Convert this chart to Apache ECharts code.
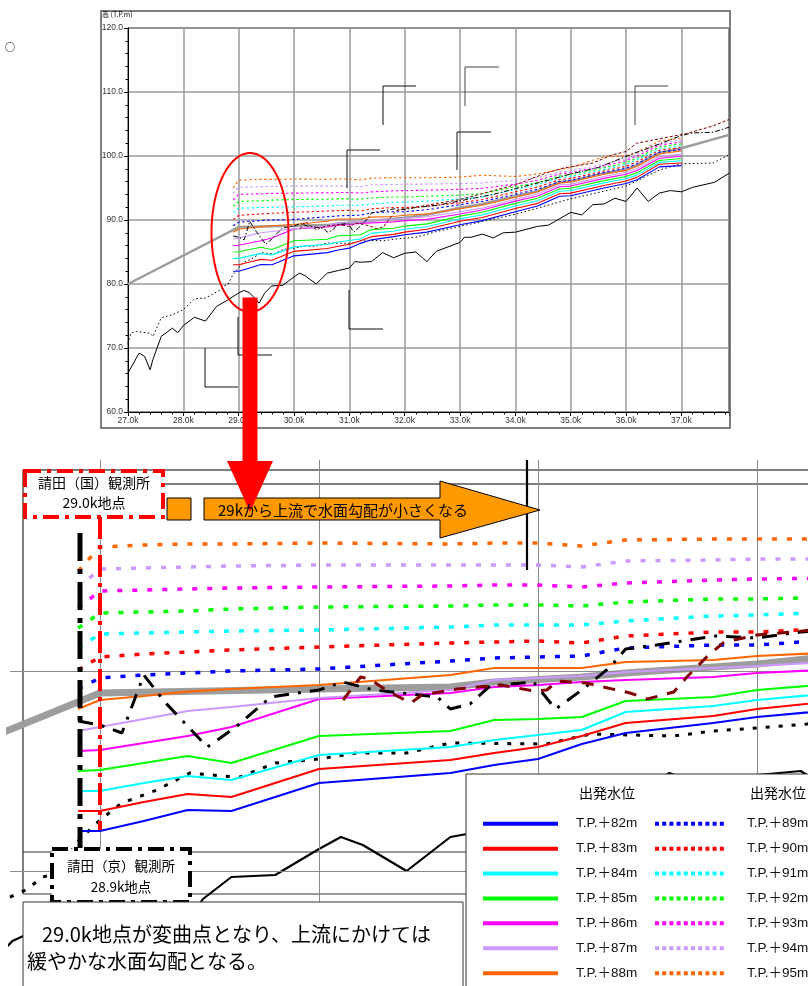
<!DOCTYPE html>
<html><head><meta charset="utf-8">
<script src="https://cdn.jsdelivr.net/npm/echarts@6/dist/echarts.min.js"></script>
<style>html,body{margin:0;padding:0;background:#fff}#c{width:808px;height:986px}</style>
</head><body><div id="c"></div>
<script>
// ---------- data (km / T.P. m) ----------
const wlKm = [28.9, 29.0, 29.2, 29.4, 29.6, 30.0, 30.6, 30.8, 31.0, 31.2, 31.4, 31.8, 32.0, 32.4, 33.0, 33.4, 34.0, 34.4, 34.8, 35.0, 35.6, 36.0, 36.2, 36.6, 37.0];
const wl82 = [82.0, 82.0, 82.5, 83.05, 83.0, 84.4, 84.9, 85.3, 85.6, 86.35, 86.9, 87.4, 87.7, 88.1, 89.25, 89.9, 91.3, 92.2, 93.7, 93.8, 95.0, 95.7, 96.3, 98.3, 98.5];
const wl83 = [83.0, 83.0, 83.45, 83.85, 83.7, 85.1, 85.55, 85.9, 86.2, 86.75, 87.4, 87.75, 88.1, 88.55, 89.8, 90.4, 91.8, 92.6, 94.1, 94.2, 95.4, 96.1, 96.7, 98.7, 98.9];
const wl84 = [84.0, 84.0, 84.4, 84.75, 84.55, 85.8, 86.2, 86.55, 86.8, 87.05, 87.95, 88.25, 88.55, 88.95, 90.2, 90.8, 92.2, 93.0, 94.5, 94.6, 95.8, 96.45, 97.05, 99.0, 99.25];
const wl85 = [85.0, 85.05, 85.4, 85.75, 85.4, 86.75, 87.0, 87.55, 87.6, 87.7, 88.5, 88.7, 89.05, 89.4, 90.6, 91.2, 92.6, 93.4, 94.85, 94.95, 96.15, 96.8, 97.4, 99.3, 99.6];
const wl86 = [86.0, 86.05, 86.4, 86.75, 87.2, 88.6, 88.9, 89.2, 89.3, 89.45, 89.55, 89.7, 89.9, 90.1, 90.95, 91.55, 92.95, 93.75, 95.2, 95.3, 96.5, 97.15, 97.75, 99.65, 99.95];
const wl87 = [87.0, 87.2, 87.6, 88.0, 88.2, 88.65, 89.05, 89.55, 89.65, 89.75, 89.95, 90.15, 90.25, 90.5, 91.3, 91.85, 93.25, 94.05, 95.5, 95.6, 96.8, 97.45, 98.05, 99.95, 100.3];
const wl88 = [88.1, 88.55, 88.75, 88.97, 89.1, 89.3, 89.8, 90.15, 90.15, 90.15, 90.45, 90.55, 90.75, 90.95, 91.75, 92.3, 93.55, 94.4, 95.8, 95.95, 97.15, 97.75, 98.4, 100.3, 100.8];
const wl89 = [89.1, 89.65, 89.8, 89.9, 90.0, 90.1, 90.5, 90.65, 90.7, 90.75, 91.15, 91.3, 91.3, 91.6, 92.4, 92.9, 94.0, 94.8, 96.0, 96.2, 97.4, 98.1, 98.8, 100.6, 101.0];
const wl90 = [90.05, 90.7, 90.85, 90.95, 91.05, 91.2, 91.4, 91.45, 91.5, 91.4, 91.75, 91.95, 91.95, 92.15, 92.7, 93.2, 94.4, 95.15, 96.3, 96.5, 97.65, 98.4, 99.1, 100.9, 101.3];
const wl91 = [91.15, 91.85, 91.9, 91.95, 92.0, 92.05, 92.2, 92.3, 92.3, 92.3, 92.5, 92.75, 92.8, 92.95, 93.3, 93.6, 94.8, 95.5, 96.6, 96.8, 97.9, 98.7, 99.4, 101.1, 101.6];
const wl92 = [92.15, 92.9, 92.95, 93.0, 93.1, 93.2, 93.25, 93.3, 93.3, 93.25, 93.45, 93.6, 93.6, 93.7, 93.9, 94.1, 95.2, 95.85, 96.9, 97.1, 98.15, 99.0, 99.7, 101.4, 101.9];
const wl93 = [93.15, 94.0, 94.05, 94.1, 94.15, 94.2, 94.25, 94.3, 94.3, 94.2, 94.4, 94.55, 94.6, 94.65, 94.8, 94.95, 95.6, 96.2, 97.2, 97.4, 98.4, 99.3, 100.0, 101.7, 102.2];
const wl94 = [94.15, 95.1, 95.15, 95.2, 95.25, 95.3, 95.3, 95.3, 95.3, 95.2, 95.5, 95.55, 95.6, 95.6, 95.7, 95.8, 96.2, 96.6, 97.5, 97.7, 98.7, 99.6, 100.3, 102.0, 102.5];
const wl95 = [95.0, 96.2, 96.3, 96.35, 96.35, 96.4, 96.35, 96.4, 96.4, 96.25, 96.55, 96.6, 96.6, 96.6, 96.7, 97.0, 96.8, 97.2, 97.9, 98.2, 99.9, 100.0, 100.6, 102.3, 102.8];
const wlNames = ['T.P.＋82m','T.P.＋83m','T.P.＋84m','T.P.＋85m','T.P.＋86m','T.P.＋87m','T.P.＋88m',
                 'T.P.＋89m','T.P.＋90m','T.P.＋91m','T.P.＋92m','T.P.＋93m','T.P.＋94m','T.P.＋95m'];

const hwlKm = [27.0, 29.0, 30.0, 30.6, 30.8, 31.2, 31.4, 32.0, 32.4, 33.0, 33.4, 34.0, 34.4, 34.8, 35.0, 35.6, 36.0, 36.2, 36.6, 37.0, 37.86];
const hwl   = [80.0, 88.9, 89.1, 89.2, 89.45, 89.7, 89.9, 90.35, 90.8, 91.9, 92.5, 93.7, 94.5, 95.9, 96.05, 97.3, 97.9, 98.6, 100.5, 101.2, 103.3];

const bedLowKm = [27.0,27.2,27.3,27.4,27.45,27.6,27.8,27.9,28.0,28.2,28.4,28.6,28.8,29.0,29.1,29.2,29.37,29.47,29.6,29.8,30.0,30.1,30.2,30.4,30.6,30.8,31.0,31.1,31.2,31.4,31.6,31.8,32.0,32.2,32.4,32.57,33.0,33.08,33.2,33.4,33.6,33.78,34.0,34.4,34.6,35.0,35.2,35.4,35.6,35.8,36.0,36.2,36.4,36.6,36.8,37.0,37.2,37.6,37.86];
const bedLow   = [66.1,69.2,68.7,66.6,68.2,71.8,73.1,72.4,73.5,74.8,74.2,76.5,77.5,78.6,79.0,78.6,77.0,78.6,79.7,79.8,81.1,81.7,81.3,80.0,81.7,82.1,82.5,83.5,83.4,83.5,84.9,84.1,84.8,85.0,83.5,85.1,86.5,87.3,87.3,87.8,87.2,88.0,88.1,89.0,89.2,91.2,90.8,92.4,92.5,93.4,92.9,95.0,92.9,94.2,94.6,94.4,95.1,95.9,97.3];

const bedAvgKm = [27.0,27.05,27.15,27.4,27.45,27.6,27.8,28.0,28.2,28.4,28.6,28.66,28.74,28.8,28.9,29.0,29.1,29.26,29.41,29.56,29.64,29.8,30.0,30.17,30.4,30.6,31.04,31.24,31.62,31.8,32.0,32.23,32.57,33.0,34.0,35.0,36.0,36.6,37.0,37.57,37.86];
const bedAvg   = [70.7,72.3,72.6,72.3,71.8,74.7,75.2,76.0,77.7,77.8,78.75,79.05,79.7,79.9,81.5,82.55,83.4,84.05,84.9,84.75,84.7,85.4,85.6,85.9,85.9,86.4,86.35,86.85,86.75,87.0,87.15,87.35,88.2,89.0,90.9,93.3,95.3,97.8,98.8,98.9,100.2];

const traceAKm = [28.9,29.0,29.1,29.2,29.3,29.49,29.53,29.62,29.78,29.87,30.0,30.11,30.25,30.54,30.6,30.69,30.78,30.98,31.08,31.2,31.33,31.4,31.54,31.81,32.0,32.2,32.6,33.0,33.6,34.0,34.5,35.0,35.5,36.12,36.49,37.0,37.2,37.57,37.86];
const traceA   = [87.5,87.3,86.9,89.8,88.4,86.2,86.5,87.2,88.7,88.85,89.05,89.45,89.05,88.7,88.1,88.35,89.25,89.45,88.1,89.05,90.2,91.1,91.3,91.75,91.65,91.95,92.3,93.0,94.0,94.9,96.0,97.2,98.2,100.35,101.5,103.2,103.6,103.7,104.5];

const traceBKm = [30.11,30.19,30.23,30.32,30.42,30.47,30.63,30.83,30.98,31.04,31.09,31.22,31.42,31.5,31.62,31.68,31.77,31.85,32.0,32.21,32.6,33.0,34.0,34.56,34.86,35.4,35.76,36.0,36.19,37.09,37.57,37.86];
const traceB   = [88.55,89.7,89.6,88.95,88.4,88.8,89.1,89.3,89.0,89.05,89.5,89.4,88.9,88.6,88.95,89.7,90.7,91.45,91.8,92.0,92.6,93.2,95.5,97.35,98.1,98.9,100.2,100.7,102.0,103.5,104.7,105.7];

const detailGridKm = [29, 30, 31, 32];
const detailGridLevel = [80, 90];
const xTicksTop = { min: 27, max: 37.86, step: 1 };
const yTicksTop = { min: 60, max: 120, step: 10 };

// ---------- styles ----------
const wlSeriesValues = [wl82, wl83, wl84, wl85, wl86, wl87, wl88, wl89, wl90, wl91, wl92, wl93, wl94, wl95];
const wlColors = ['#0000ff','#ff0000','#00ffff','#00ff00','#ff00ff','#cc99ff','#ff6600'];
const CJK = "'Noto Sans CJK JP', sans-serif";
const LAT = "'Liberation Sans','Noto Sans CJK JP', sans-serif";

function zip(xs, ys) { return xs.map((x, i) => [x, ys[i]]); }

const series = [];
series.push({
  type: 'line', xAxisIndex: 1, yAxisIndex: 1, data: [], symbol: 'none', z: 1, silent: true,
  markLine: {
    silent: true, symbol: 'none', label: { show: false },
    lineStyle: { color: '#8a8a8a', width: 1, type: 'solid' },
    data: detailGridKm.map(v => ({ xAxis: v })).concat(detailGridLevel.map(v => ({ yAxis: v })))
  }
});

[0, 1].forEach(g => {
  const big = g === 1;
  const base = { type: 'line', xAxisIndex: g, yAxisIndex: g, symbol: 'none', showSymbol: false, silent: true, clip: true };
  series.push(Object.assign({}, base, { name: '計画高水位', data: zip(hwlKm, hwl), z: 3,
    lineStyle: { color: '#9d9d9d', width: big ? 7 : 2.5 } }));
  series.push(Object.assign({}, base, { name: '最深河床高', data: zip(bedLowKm, bedLow), z: 4,
    lineStyle: { color: '#000', width: big ? 2.2 : 1 } }));
  series.push(Object.assign({}, base, { name: '平均河床高', data: zip(bedAvgKm, bedAvg), z: 4,
    lineStyle: { color: '#000', width: big ? 3 : 1, type: big ? [4, 9] : [1.5, 2.5] } }));
  wlSeriesValues.forEach((vals, i) => {
    const dotted = i >= 7;
    const col = wlColors[i % 7];
    series.push(Object.assign({}, base, {
      name: wlNames[i], data: zip(wlKm, vals), z: 5,
      itemStyle: { color: col },
      lineStyle: { color: col, width: big ? (dotted ? 3.5 : 2.2) : 1.1,
                   type: dotted ? (big ? [5, 10] : [2.5, 2.5]) : 'solid', cap: 'butt' }
    }));
  });
  series.push(Object.assign({}, base, { name: '痕跡水位A', data: zip(traceAKm, traceA), z: 6,
    lineStyle: { color: '#000', width: big ? 3 : 1, type: big ? [15, 9, 3, 9] : [5, 2, 1.5, 2] } }));
  series.push(Object.assign({}, base, { name: '痕跡水位B', data: zip(traceBKm, traceB), z: 6,
    lineStyle: { color: '#800000', width: big ? 3 : 1, type: big ? [12, 10] : [3, 2] } }));
});

// ---------- decorations ----------
const ell = [];
for (let k = 0; k < 90; k++) { const t = k / 90 * Math.PI * 2; ell.push([250 + 38.5 * Math.cos(t), 232.5 + 79.5 * Math.sin(t)]); }

function pl(points, stroke, lw, z, dash) {
  return { type: 'polyline', shape: { points }, style: { stroke, lineWidth: lw, fill: null, lineDash: dash || null }, z: z || 10, silent: true };
}
function txt(x, y, text, font, align, extra) {
  return Object.assign({ type: 'text', x, y, z: 120, silent: true,
    style: { text, font, fill: '#000', textAlign: align || 'left', textVerticalAlign: 'middle' } }, extra || {});
}
const dashDot = [16, 6, 4, 6];

const elements = [
  { type: 'rect', shape: { x: 101, y: 11, width: 629, height: 417 }, style: { fill: null, stroke: '#555', lineWidth: 1.5 }, z: 1, silent: true },
  txt(102, 14, '高 (T.P.m)', "7px 'Noto Sans CJK JP'", 'left', { z: 10 }),
  txt(10, 47, '○', "10px 'Noto Sans CJK JP'", 'center', { z: 10 }),
  pl([[205, 348], [205, 387], [238, 387]], '#111', 1),
  pl([[238, 317], [238, 355], [272, 355]], '#111', 1),
  pl([[349, 290], [349, 329], [383, 329]], '#111', 1),
  pl([[383, 125], [383, 86], [416, 86]], '#111', 1),
  pl([[347, 188], [347, 150], [380, 150]], '#111', 1),
  pl([[465, 106], [465, 67], [499, 67]], '#444', 1),
  pl([[457, 170], [457, 132], [491, 132]], '#111', 1),
  pl([[635, 125], [635, 86], [668, 86]], '#444', 1),
  { type: 'polygon', shape: { points: ell }, style: { fill: null, stroke: '#ff0000', lineWidth: 2 }, z: 110, silent: true },
  { type: 'rect', shape: { x: 242.5, y: 297.5, width: 15, height: 165 }, style: { fill: '#ff0000' }, z: 110, silent: true },
  { type: 'polygon', shape: { points: [[227, 461], [273, 461], [250, 512]] }, style: { fill: '#ff0000' }, z: 110, silent: true },

  pl([[23, 470], [808, 470]], '#555', 1.5, 2),
  pl([[23, 470], [23, 894]], '#555', 1.5, 2),
  pl([[163, 484], [808, 484]], '#000', 1, 2),
  pl([[23, 852], [466, 852]], '#333', 1, 2),
  pl([[23, 894], [466, 894]], '#333', 1, 2),
  pl([[527, 460], [527, 570]], '#000', 2.2, 10),

  { type: 'rect', shape: { x: 167, y: 498, width: 24, height: 22 }, style: { fill: '#ff9900', stroke: '#000', lineWidth: 1 }, z: 100, silent: true },
  { type: 'polygon', shape: { points: [[204, 498], [440, 498], [440, 481], [540, 510], [440, 538], [440, 520], [204, 520]] },
    style: { fill: '#ff9900', stroke: '#000', lineWidth: 1 }, z: 100, silent: true },
  txt(218, 510, '29kから上流で水面勾配が小さくなる', "15px " + CJK),

  pl([[100, 517], [100, 830]], '#ff0000', 4, 60, [22, 6, 4, 6]),
  pl([[80, 533], [80, 848]], '#000', 5, 60, [28, 8, 5, 8]),

  { type: 'rect', shape: { x: 25, y: 471, width: 138, height: 46 }, style: { fill: '#fff', stroke: '#ff0000', lineWidth: 4, lineDash: dashDot }, z: 100, silent: true },
  txt(94, 483, '請田（国）観測所', "14px " + CJK, 'center'),
  txt(94, 503, '29.0k地点', "14px " + CJK, 'center'),

  { type: 'rect', shape: { x: 52, y: 849, width: 138, height: 53 }, style: { fill: '#fff', stroke: '#000', lineWidth: 4, lineDash: dashDot }, z: 100, silent: true },
  txt(121, 866, '請田（京）観測所', "13.5px " + CJK, 'center'),
  txt(121, 887, '28.9k地点', "13.5px " + CJK, 'center'),

  { type: 'rect', shape: { x: 23, y: 902, width: 440, height: 100 }, style: { fill: '#fff', stroke: '#333', lineWidth: 1 }, z: 100, silent: true },
  txt(42, 934, '29.0k地点が変曲点となり、上流にかけては', "20px " + CJK),
  txt(27, 961, '緩やかな水面勾配となる。', "20px " + CJK),

  { type: 'rect', shape: { x: 466, y: 774, width: 360, height: 230 }, style: { fill: '#fff', stroke: '#333', lineWidth: 1 }, z: 100, silent: true },
  txt(607, 793, '出発水位', "14px " + CJK, 'center'),
  txt(778, 793, '出発水位', "14px " + CJK, 'center')
];

const chart = echarts.init(document.getElementById('c'), null, { renderer: 'canvas' });
chart.setOption({
  animation: false,
  backgroundColor: '#fff',
  grid: [
    { left: 128, top: 28, width: 601, height: 384, show: true, borderColor: '#000', borderWidth: 1, outerBoundsMode: 'none', containLabel: false },
    { left: 10, top: 460, width: 798, height: 526, show: false, outerBoundsMode: 'none', containLabel: false }
  ],
  xAxis: [
    { gridIndex: 0, type: 'value', min: xTicksTop.min, max: xTicksTop.max, interval: xTicksTop.step,
      axisLine: { lineStyle: { color: '#000', width: 1 } },
      axisTick: { length: 4, lineStyle: { color: '#000' } },
      minorTick: { show: true, splitNumber: 5, length: 2.5, lineStyle: { color: '#000' } },
      axisLabel: { formatter: v => v.toFixed(1) + 'k', fontSize: 8.5, color: '#333', margin: 4, showMaxLabel: false, fontFamily: LAT },
      splitLine: { show: true, lineStyle: { color: '#9a9a9a', width: 1.5 } } },
    { gridIndex: 1, type: 'value', min: 28.589, max: 32.233, show: false }
  ],
  yAxis: [
    { gridIndex: 0, type: 'value', min: yTicksTop.min, max: yTicksTop.max, interval: yTicksTop.step,
      axisLine: { show: true, lineStyle: { color: '#000', width: 1 } },
      axisTick: { show: true, length: 4, lineStyle: { color: '#000' } },
      minorTick: { show: true, splitNumber: 5, length: 2.5, lineStyle: { color: '#000' } },
      axisLabel: { formatter: v => v.toFixed(1), fontSize: 8.5, color: '#333', margin: 5, fontFamily: LAT },
      splitLine: { show: true, lineStyle: { color: '#9a9a9a', width: 1.5 } } },
    { gridIndex: 1, type: 'value', min: 74.25, max: 100.55, show: false }
  ],
  legend: [
    { data: wlNames.slice(0, 7), orient: 'vertical', left: 481, top: 817, itemWidth: 75, itemHeight: 16, itemGap: 11.4,
      padding: 0, selectedMode: false, z: 200, itemStyle: { opacity: 0 },
      lineStyle: { width: 4, type: 'solid', cap: 'butt' },
      textStyle: { fontSize: 13.5, color: '#111', fontFamily: LAT, padding: [0, 0, 0, 13] } },
    { data: wlNames.slice(7), orient: 'vertical', left: 653, top: 817, itemWidth: 72, itemHeight: 16, itemGap: 11.4,
      padding: 0, selectedMode: false, z: 200, itemStyle: { opacity: 0 },
      lineStyle: { width: 4, type: [4, 3.2], cap: 'butt' },
      textStyle: { fontSize: 13.5, color: '#111', fontFamily: LAT, padding: [0, 0, 0, 15] } }
  ],
  graphic: { elements },
  series
});
</script></body></html>
